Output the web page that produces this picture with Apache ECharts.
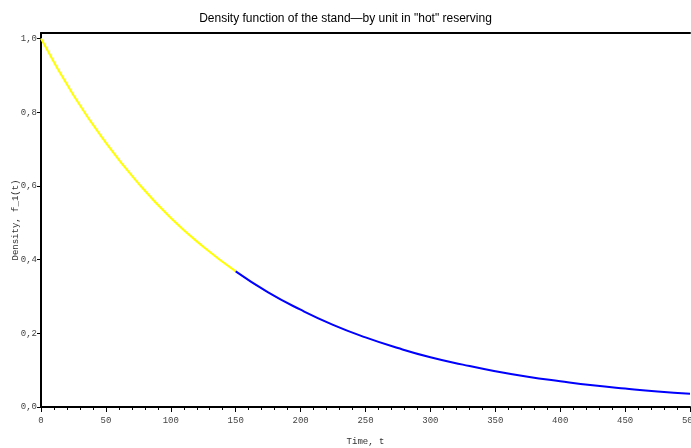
<!DOCTYPE html>
<html><head><meta charset="utf-8">
<script src="https://cdn.jsdelivr.net/npm/echarts@6/dist/echarts.min.js"></script>
<style>html,body{margin:0;padding:0;background:#fff}#c{width:691px;height:448px}</style>
</head><body><div id="c"></div>
<script>
const titleText = 'Density function of the stand\u2014by unit in "hot" reserving';
const xTitle = 'Time, t';
const yTitle = 'Density, f_1(t)';
const hotTimes = [0, 25, 50, 75, 100, 125, 150];
const hotValues = [1.0, 0.846, 0.717, 0.607, 0.513, 0.435, 0.368];
const coldTimes = [150, 175, 200, 225, 250, 275, 300, 325, 350, 375, 400, 425, 450, 475, 500];
const coldValues = [0.368, 0.311, 0.264, 0.223, 0.189, 0.160, 0.135, 0.115, 0.097, 0.082, 0.070, 0.059, 0.050, 0.042, 0.036];
const xTicks = [0, 50, 100, 150, 200, 250, 300, 350, 400, 450, 500];
const yTicks = [0.0, 0.2, 0.4, 0.6, 0.8, 1.0];

const chart = echarts.init(document.getElementById('c'));
const lblFont = {fontFamily: 'Liberation Mono', fontSize: 9, color: '#444'};
chart.setOption({
  animation: false,
  title: {text: titleText, left: 'center', top: 8,
    textStyle: {fontFamily: 'Liberation Sans', fontSize: 12, fontWeight: 'normal', color: '#000'}},
  grid: {left: 41, right: 1, top: 33, bottom: 41, containLabel: false, outerBoundsMode: 'none'},
  xAxis: [{
    type: 'value', min: 0, max: 500, interval: 50,
    name: xTitle, nameLocation: 'middle', nameGap: 30,
    nameTextStyle: {fontFamily: 'Liberation Mono', fontSize: 9, color: '#333'},
    axisLine: {show: true, onZero: false, lineStyle: {color: '#000', width: 2}},
    axisTick: {show: true, length: 5, lineStyle: {color: '#000'}},
    minorTick: {show: true, splitNumber: 5, length: 3, lineStyle: {color: '#000'}},
    splitLine: {show: false},
    axisLabel: Object.assign({margin: 9, showMaxLabel: true, formatter: v => xTicks.includes(v) ? String(v) : ''}, lblFont)
  }, {
    type: 'value', position: 'top', min: 0, max: 500,
    axisLine: {show: true, onZero: false, lineStyle: {color: '#000', width: 2}},
    axisTick: {show: false}, axisLabel: {show: false}, splitLine: {show: false}
  }],
  yAxis: {
    type: 'value', min: 0, max: 1.015, interval: 0.2,
    name: yTitle, nameLocation: 'middle', nameGap: 21, nameMoveOverlap: false,
    nameTextStyle: {fontFamily: 'Liberation Mono', fontSize: 9, color: '#333'},
    axisLine: {show: true, onZero: false, lineStyle: {color: '#000', width: 2}},
    axisTick: {show: true, length: 4, customValues: yTicks, lineStyle: {color: '#000'}},
    splitLine: {show: false},
    axisLabel: Object.assign({margin: 4, customValues: yTicks,
      formatter: v => v.toFixed(1).replace('.', ',')}, lblFont)
  },
  series: [{
    type: 'line', smooth: true, symbol: 'none',
    lineStyle: {color: '#ffff00', width: 2},
    data: hotTimes.map((t, i) => [t, hotValues[i]])
  }, {
    type: 'line', smooth: true, symbol: 'none',
    lineStyle: {color: '#0000ff', width: 2},
    data: coldTimes.map((t, i) => [t, coldValues[i]])
  }]
});
</script></body></html>
